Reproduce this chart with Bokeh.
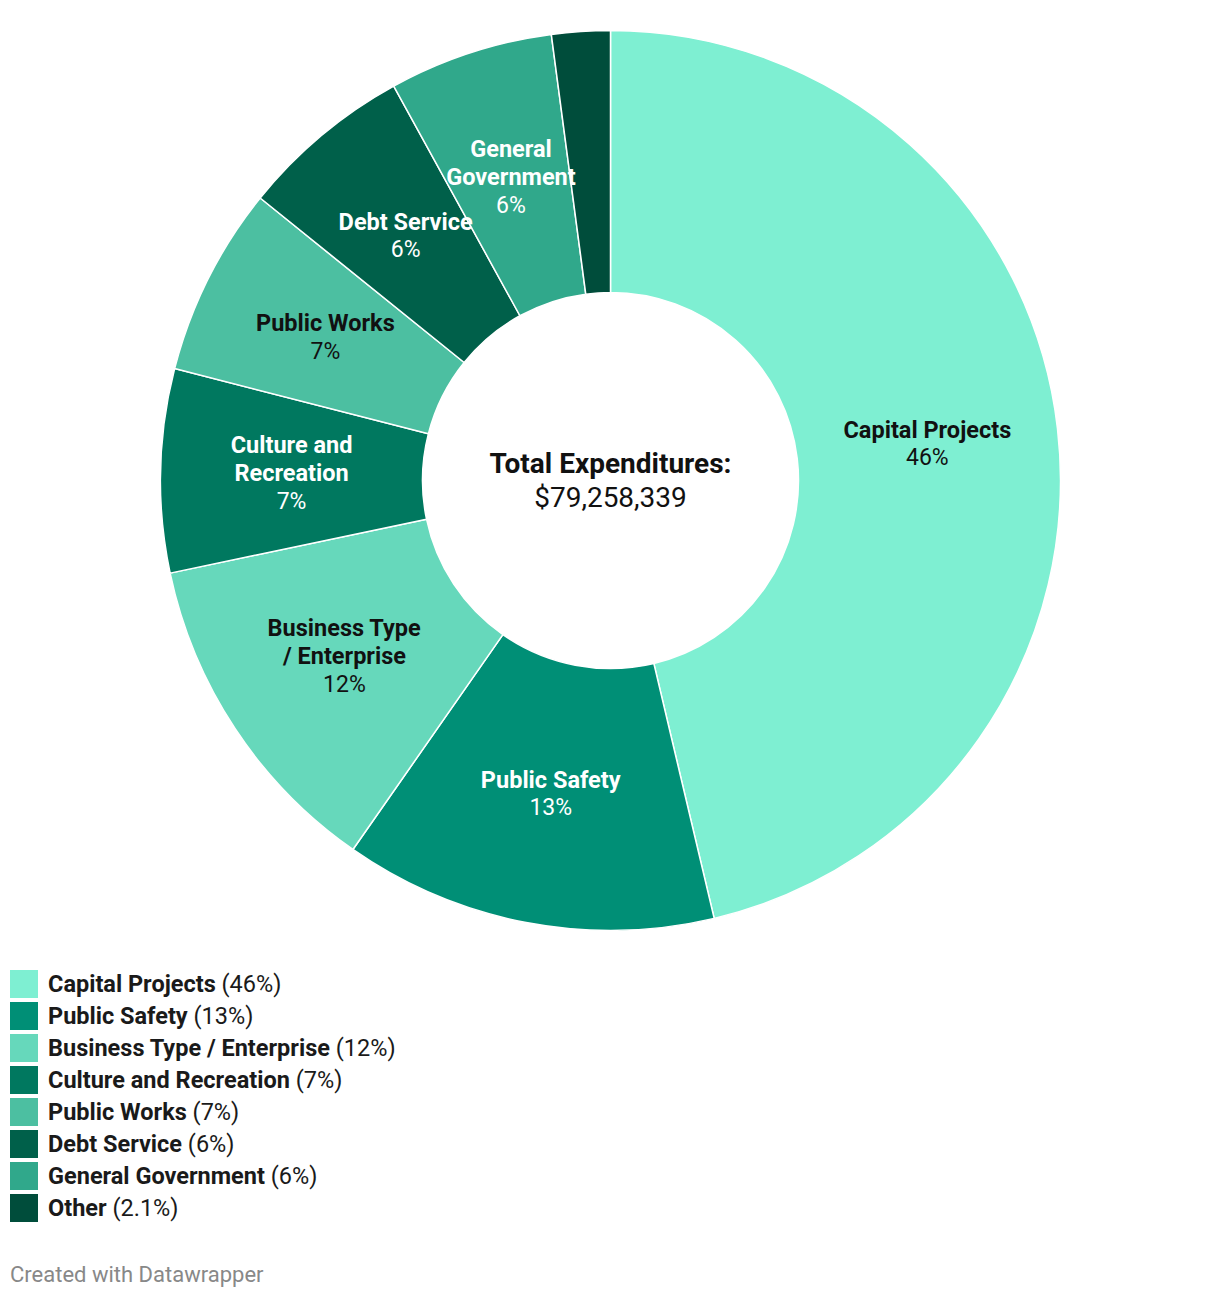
import math
from bokeh.plotting import figure
from bokeh.models import Range1d, ColumnDataSource, Div
from bokeh.layouts import column
from bokeh.core.properties import value
from bokeh.embed import file_html
from bokeh.resources import INLINE

# ---- data ----
categories = ["Capital Projects", "Public Safety", "Business Type / Enterprise",
              "Culture and Recreation", "Public Works", "Debt Service",
              "General Government", "Other"]
shares = [46.3, 13.4, 12.0, 7.3, 6.8, 6.2, 5.9, 2.1]
share_labels = ["46%", "13%", "12%", "7%", "7%", "6%", "6%", "2.1%"]
slice_label_lines = [["Capital Projects"], ["Public Safety"], ["Business Type", "/ Enterprise"],
                     ["Culture and", "Recreation"], ["Public Works"], ["Debt Service"],
                     ["General", "Government"], []]
colors = ["#7eefd2", "#008f76", "#66d8bb", "#00785f", "#4cbfa1", "#00604a", "#30a88b", "#004d3b"]
label_colors = ["#111111", "#ffffff", "#111111", "#ffffff", "#111111", "#ffffff", "#ffffff", "#ffffff"]
total_label = "Total Expenditures:"
total_value = "$79,258,339"
credit = "Created with Datawrapper"

FONT = "Roboto"
W, H = 1220, 950
CX_PX, CY_PX = 610, 480
R_OUT, R_IN = 450, 188

p = figure(width=W, height=H, output_backend="svg", toolbar_location=None,
           x_range=Range1d(-CX_PX, W - CX_PX), y_range=Range1d(CY_PX - H, CY_PX),
           min_border=0, outline_line_color=None, background_fill_color="white",
           border_fill_color="white")
p.axis.visible = False
p.grid.visible = False

total = sum(shares)
starts, ends, mids = [], [], []
cum = 0.0
for s in shares:
    f0 = cum / total
    f1 = (cum + s) / total
    starts.append(math.pi / 2 - f1 * 2 * math.pi)
    ends.append(math.pi / 2 - f0 * 2 * math.pi)
    mids.append((f0 + f1) / 2)
    cum += s

src = ColumnDataSource(dict(start=starts, end=ends, color=colors, cat=categories))
p.annular_wedge(x=0, y=0, inner_radius=R_IN, outer_radius=R_OUT, start_angle="start",
                end_angle="end", direction="anticlock", fill_color="color",
                line_color="white", line_width=1.5, source=src)

# slice labels
r_lab = (R_OUT + R_IN) / 2
LH = 28
bx, by, bt, bc = [], [], [], []
px_, py_, pt, pc = [], [], [], []
for i, lines in enumerate(slice_label_lines):
    if not lines:
        continue
    ang = mids[i] * 2 * math.pi
    ax = r_lab * math.sin(ang)
    ay = r_lab * math.cos(ang)
    n = len(lines) + 1
    for j, ln in enumerate(lines):
        bx.append(ax)
        by.append(ay - (j - (n - 1) / 2) * LH)
        bt.append(ln)
        bc.append(label_colors[i])
    px_.append(ax)
    py_.append(ay - (n - 1 - (n - 1) / 2) * LH)
    pt.append(share_labels[i])
    pc.append(label_colors[i])

p.text(x=bx, y=by, text=bt, text_color=bc, text_font=value(FONT), text_font_style="bold",
       text_font_size="23.5px", text_align="center", text_baseline="middle")
p.text(x=px_, y=py_, text=pt, text_color=pc, text_font=value(FONT), text_font_style="normal",
       text_font_size="23px", text_align="center", text_baseline="middle")

# centre text
p.text(x=[0], y=[17], text=[total_label], text_color="#111111", text_font=value(FONT),
       text_font_style="bold", text_font_size="28px", text_align="center", text_baseline="middle")
p.text(x=[0], y=[-17], text=[total_value], text_color="#111111", text_font=value(FONT),
       text_font_style="normal", text_font_size="28px", text_align="center", text_baseline="middle")

# legend as HTML
items = []
for cat, lab, col in zip(categories, share_labels, colors):
    items.append(
        f'<div style="display:flex;align-items:center;height:28px;margin-bottom:4px;">'
        f'<span style="display:inline-block;flex:none;width:28px;height:28px;background:{col};margin-right:10px;"></span>'
        f'<span style="font-family:Roboto;font-size:23.5px;line-height:28px;color:#1a1a1a;white-space:nowrap;">'
        f'<b>{cat}</b> ({lab})</span></div>')
legend_html = (
    f'<div style="padding:20px 0 0 10px;width:1200px;">{"".join(items)}</div>'
    f'<div style="padding:37px 0 0 10px;font-family:Roboto;font-size:22px;line-height:24px;color:#888888;white-space:nowrap;">{credit}</div>'
)
leg = Div(text=legend_html, width=W, height=1298 - H, margin=(0, 0, 0, 0))

layout = column(p, leg, spacing=0, margin=(0, 0, 0, 0))
open("out.html", "w").write(file_html(layout, INLINE))
